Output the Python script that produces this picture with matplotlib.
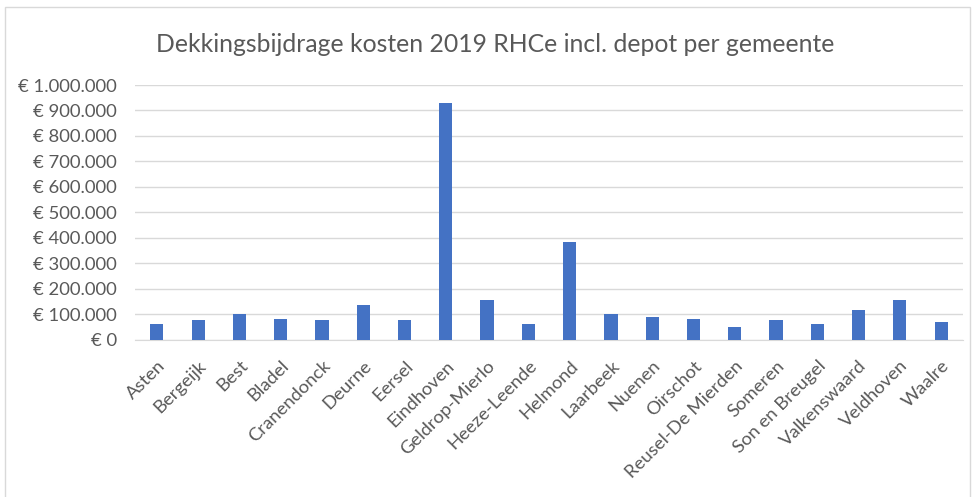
import numpy as np
import matplotlib.pyplot as plt
from matplotlib.patches import Rectangle
from matplotlib.ticker import FuncFormatter

# gemeenten en bijdrage
gemeenten = ["Asten", "Bergeijk", "Best", "Bladel", "Cranendonck", "Deurne", "Eersel",
             "Eindhoven", "Geldrop-Mierlo", "Heeze-Leende", "Helmond", "Laarbeek",
             "Nuenen", "Oirschot", "Reusel-De Mierden", "Someren", "Son en Breugel",
             "Valkenswaard", "Veldhoven", "Waalre"]
bijdrage = [61000, 75000, 101000, 82000, 75000, 136000, 75000,
            930000, 155000, 61000, 382000, 101000,
            87000, 81000, 48000, 75000, 61000,
            115000, 155000, 67000]

titel = "Dekkingsbijdrage kosten 2019 RHCe incl. depot per gemeente"
grey = "#595959"

plt.rcParams['font.family'] = ['Lato', 'DejaVu Sans']

fig = plt.figure(figsize=(9.76, 4.97), dpi=100)
ax = fig.add_axes([135/976, 1-339.5/497, (963-135)/976, (339.5-85)/497])

x = np.arange(len(gemeenten))
ax.bar(x, bijdrage, width=0.32, color="#4472c4", zorder=3)

def euro(v, pos):
    return "€ " + f"{int(v):,}".replace(",", ".")

ax.set_ylim(0, 1000000)
ax.set_yticks(np.arange(0, 1000001, 100000))
ax.yaxis.set_major_formatter(FuncFormatter(euro))
ax.set_xlim(-0.53, len(gemeenten) - 0.47)
ax.set_xticks(x)
ax.set_xticklabels(gemeenten, rotation=45, ha="right", rotation_mode="anchor")

ax.grid(axis="y", color="#d9d9d9", linewidth=1, zorder=0)
for s in ["top", "right", "left"]:
    ax.spines[s].set_visible(False)
ax.spines["bottom"].set_color("#d9d9d9")
ax.tick_params(length=0, labelsize=13.3, colors=grey)
ax.tick_params(axis="x", pad=13)
ax.tick_params(axis="y", pad=13)

fig.text(0.507, 1-45/497, titel, ha="center", va="center", fontsize=17.8, color=grey)

# kader om de grafiek
fig.patches.append(Rectangle((5/976, -0.01), 965/976, 1.01-7/497, transform=fig.transFigure,
                             fill=False, edgecolor="#d9d9d9", linewidth=1))

fig.savefig("out.png", dpi=100)
